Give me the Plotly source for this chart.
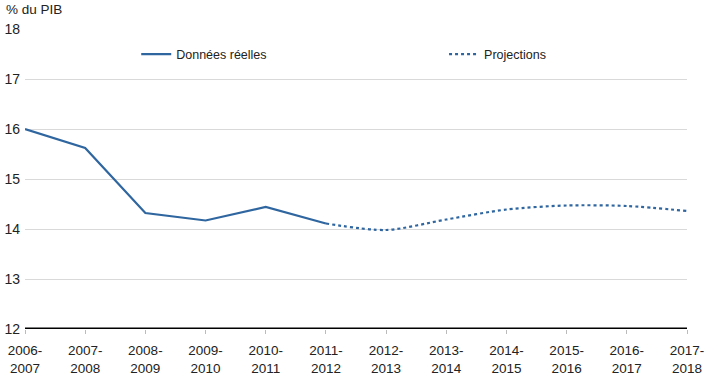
import plotly.graph_objects as go

categories = ["2006-2007", "2007-2008", "2008-2009", "2009-2010", "2010-2011", "2011-2012",
              "2012-2013", "2013-2014", "2014-2015", "2015-2016", "2016-2017", "2017-2018"]
tick_labels = [c.replace("-", "-<br>") for c in categories]
actual_cats = categories[:6]
actual_vals = [16.0, 15.62, 14.32, 14.17, 14.44, 14.11]
proj_cats = categories[5:]
proj_vals = [14.11, 13.98, 14.19, 14.39, 14.47, 14.46, 14.36]

color = "#2f66a0"
font = "Liberation Sans, Arial, Helvetica, sans-serif"

fig = go.Figure()
fig.add_trace(go.Scatter(x=actual_cats, y=actual_vals, mode="lines", name="Données réelles",
                         line=dict(color=color, width=2.2), legend="legend"))
fig.add_trace(go.Scatter(x=proj_cats, y=proj_vals, mode="lines", name="Projections",
                         line=dict(color=color, width=2.2, dash="dot", shape="spline", smoothing=0.8),
                         legend="legend2"))

fig.update_layout(
    width=720, height=376,
    margin=dict(l=25, r=33, t=29, b=47),
    paper_bgcolor="white", plot_bgcolor="white",
    font=dict(family=font, size=12, color="#222"),
    xaxis=dict(type="category", categoryorder="array", categoryarray=categories,
               tickmode="array", tickvals=categories, ticktext=tick_labels,
               range=[0, 11], showgrid=False, ticks="outside", ticklen=4, tickcolor="#bbb",
               ticklabelstandoff=5,
               showline=False, zeroline=False, automargin=False,
               tickfont=dict(size=13.5, color="#222")),
    yaxis=dict(range=[12, 18], dtick=1, showgrid=True, gridcolor="#d9d9d9", gridwidth=1.2,
               zeroline=False, showline=False, ticks="", ticklabelstandoff=4, automargin=False,
               tickfont=dict(size=14, color="#222")),
    legend=dict(x=0.168, y=0.915, xanchor="left", yanchor="middle", orientation="h",
                bgcolor="rgba(0,0,0,0)", font=dict(size=12.5, color="#222")),
    legend2=dict(x=0.633, y=0.915, xanchor="left", yanchor="middle", orientation="h",
                 bgcolor="rgba(0,0,0,0)", font=dict(size=12.5, color="#222")),
    showlegend=True,
)
fig.add_shape(type="line", xref="paper", yref="y", x0=0, x1=1, y0=12, y1=12,
              line=dict(color="black", width=3))
fig.add_annotation(text="% du PIB", xref="paper", yref="paper", x=-0.031, y=1.0,
                   xanchor="left", yanchor="bottom", yshift=10, showarrow=False,
                   font=dict(size=13.5, color="#222"))
fig.write_html("out.html", config={"displayModeBar": False},
               post_script="document.body.style.margin='0';document.body.style.overflow='hidden';")
